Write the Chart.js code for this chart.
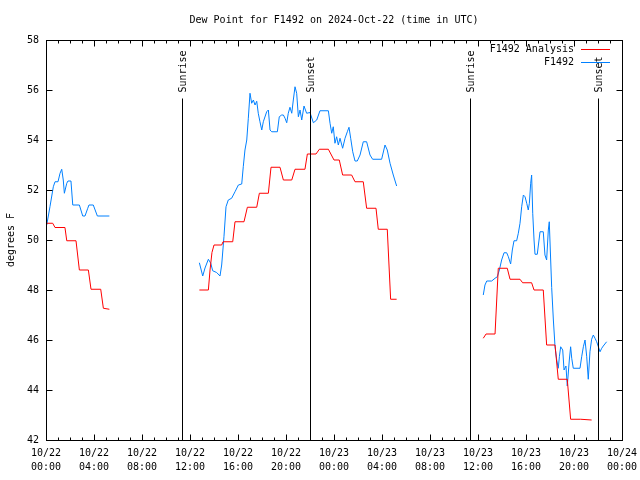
<!DOCTYPE html>
<html>
<head>
<meta charset="utf-8">
<script src="https://cdn.jsdelivr.net/npm/chart.js@4.4.1/dist/chart.umd.min.js"></script>
<style>
  html, body { margin: 0; padding: 0; background: #fff; }
</style>
</head>
<body>
<canvas id="dewChart" width="640" height="480"></canvas>
<script>
// hours since 2024-10-22 00:00 UTC, a null value breaks the line
const obsHours = [
    0.06, 0.33, 0.61, 0.75, 1.0, 1.17, 1.31, 1.44, 1.53, 1.73, 1.83, 2.08, 2.23, 2.78, 3.06, 3.25, 3.48, 3.58, 3.94, 4.28, 5.28,
    9,
    12.78, 13.06, 13.25, 13.53, 13.73, 13.89, 14.22, 14.5, 14.64, 14.83, 15.0, 15.19, 15.47, 15.75, 16.03, 16.31, 16.44, 16.58,
    16.73, 16.86, 17.0, 17.14, 17.28, 17.42, 17.56, 17.69, 17.83, 17.98, 18.11, 18.39, 18.53, 18.67, 18.81, 19.28, 19.44, 19.64,
    19.78, 19.92, 20.06, 20.19, 20.33, 20.48, 20.61, 20.75, 20.89, 21.03, 21.17, 21.31, 21.5, 21.72, 22.0, 22.28, 22.56, 22.83,
    23.53, 23.67, 23.81, 23.94, 24.08, 24.22, 24.36, 24.5, 24.72, 24.92, 25.11, 25.25, 25.39, 25.56, 25.75, 25.94, 26.17, 26.44,
    26.72, 27.0, 27.22, 27.97, 28.25, 28.44, 28.67, 28.94, 29.22,
    33,
    36.44, 36.58, 36.73, 37.14, 37.42, 37.61, 37.78, 37.97, 38.17, 38.39, 38.53, 38.72, 38.86, 39.0, 39.22, 39.36, 39.5, 39.64,
    39.78, 39.92, 40.06, 40.19, 40.28, 40.39, 40.47, 40.56, 40.67, 40.75, 40.94, 41.17, 41.44, 41.58, 41.72, 41.86, 41.94, 42.14,
    42.28, 42.42, 42.56, 42.69, 42.78, 42.89, 43.06, 43.17, 43.33, 43.44, 43.61, 43.72, 43.81, 43.94, 44.5, 44.64, 44.78, 44.92,
    45.06, 45.19, 45.33, 45.47, 45.61, 45.75, 45.89, 46.03, 46.17, 46.31, 46.44, 46.72
];
const obsDew = [
    50.6, 51.33, 52.13, 52.33, 52.33, 52.67, 52.83, 52.4, 51.87, 52.27, 52.36, 52.36, 51.4, 51.4, 50.96, 50.96, 51.27, 51.4, 51.4, 50.96, 50.96,
    null,
    49.09, 48.56, 48.88, 49.23, 49.07, 48.77, 48.7, 48.56, 49.0, 50.13, 51.33, 51.6, 51.67, 51.93, 52.2, 52.24, 52.93, 53.6,
    54.0, 54.87, 55.87, 55.47, 55.6, 55.4, 55.55, 55.07, 54.73, 54.4, 54.73, 55.13, 55.2, 54.4, 54.33, 54.33, 54.93, 55.0,
    55.0, 54.87, 54.69, 55.07, 55.31, 55.07, 55.6, 56.13, 55.87, 54.93, 55.2, 54.8, 55.36, 55.07, 55.1, 54.69, 54.8, 55.17,
    55.17, 54.67, 54.27, 54.53, 53.87, 54.13, 53.8, 54.07, 53.67, 54.07, 54.33, 54.51, 54.07, 53.53, 53.16, 53.16, 53.4, 53.93,
    53.93, 53.4, 53.23, 53.23, 53.8, 53.6, 53.07, 52.6, 52.16,
    null,
    47.8, 48.2, 48.36, 48.36, 48.47, 48.53, 48.8, 49.2, 49.49, 49.49, 49.33, 49.04, 49.6, 49.97, 49.97, 50.27, 50.67, 51.33,
    51.8, 51.73, 51.47, 51.2, 51.47, 52.27, 52.6, 51.07, 50.0, 49.43, 49.43, 50.33, 50.33, 49.4, 49.2, 50.4, 50.73, 48.1,
    46.8, 45.73, 45.2, 44.87, 45.33, 45.73, 45.6, 44.8, 44.96, 44.16, 45.2, 45.73, 45.27, 44.87, 44.87, 45.33, 45.73, 46.0,
    45.33, 44.43, 45.53, 46.03, 46.2, 46.07, 45.93, 45.73, 45.53, 45.67, 45.76, 45.93
];

const anaHours = [
    0.06, 0.56, 0.75, 1.58, 1.73, 2.5, 2.78, 3.53, 3.75, 4.56, 4.78, 5.28,
    9,
    12.78, 13.53, 13.67, 13.83, 14.0, 14.64, 14.75, 15.56, 15.75, 16.5, 16.78, 17.56, 17.78, 18.53, 18.75, 19.5, 19.78, 20.48,
    20.75, 21.58, 21.78, 22.5, 22.78, 23.53, 24.0, 24.44, 24.72, 25.47, 25.75, 26.44, 26.72, 27.5, 27.69, 28.44, 28.72, 29.22,
    33,
    36.44, 36.67, 37.42, 37.69, 38.44, 38.67, 39.5, 39.72, 40.47, 40.67, 41.44, 41.72, 42.42, 42.69, 43.44, 43.72, 44.56, 45.47
];
const anaDew = [
    50.67, 50.67, 50.5, 50.5, 49.97, 49.97, 48.8, 48.8, 48.03, 48.03, 47.27, 47.23,
    null,
    48.0, 48.0, 48.8, 49.5, 49.8, 49.8, 49.93, 49.93, 50.73, 50.73, 51.31, 51.31, 51.87, 51.87, 52.91, 52.91, 52.4, 52.4,
    52.83, 52.83, 53.44, 53.44, 53.63, 53.63, 53.2, 53.2, 52.6, 52.6, 52.33, 52.33, 51.27, 51.27, 50.43, 50.43, 47.63, 47.63,
    null,
    46.07, 46.24, 46.24, 48.87, 48.87, 48.43, 48.43, 48.29, 48.29, 48.0, 48.0, 45.8, 45.8, 44.43, 44.43, 42.83, 42.83, 42.8
];

const sunLabels = ['Sunrise', 'Sunset', 'Sunrise', 'Sunset'];
const sunHours = [11.33, 22.0, 35.33, 46.0];

const xTickLabels = [
    ['10/22', '00:00'], ['10/22', '04:00'], ['10/22', '08:00'], ['10/22', '12:00'], ['10/22', '16:00'], ['10/22', '20:00'],
    ['10/23', '00:00'], ['10/23', '04:00'], ['10/23', '08:00'], ['10/23', '12:00'], ['10/23', '16:00'], ['10/23', '20:00'],
    ['10/24', '00:00']
];

const chartTitle = 'Dew Point for F1492 on 2024-Oct-22 (time in UTC)';
const yTitle = 'degrees F';

const MONO = "'DejaVu Sans Mono', 'Liberation Mono', monospace";

function toPoints(hours, values) {
    return hours.map((h, i) => ({ x: h, y: values[i] }));
}

// gnuplot look: closed box, inward ticks, sun markers, legend top right
const gnuplotFrame = {
    id: 'gnuplotFrame',
    afterDatasetsDraw(chart) {
        const { ctx, chartArea: a, scales: { x, y } } = chart;
        const L = Math.round(a.left) + 0.5, R = Math.round(a.right) + 0.5;
        const T = Math.round(a.top) + 0.5, B = Math.round(a.bottom) + 0.5;
        ctx.save();
        ctx.strokeStyle = '#000';
        ctx.fillStyle = '#000';
        ctx.lineWidth = 1;

        ctx.beginPath();
        for (let h = x.min; h <= x.max; h++) {
            const px = Math.round(x.getPixelForValue(h)) + 0.5;
            const len = h % 4 === 0 ? 6 : 3;
            ctx.moveTo(px, B); ctx.lineTo(px, B - len);
            ctx.moveTo(px, T); ctx.lineTo(px, T + len);
        }
        y.ticks.forEach(t => {
            const py = Math.round(y.getPixelForValue(t.value)) + 0.5;
            ctx.moveTo(L, py); ctx.lineTo(L + 6, py);
            ctx.moveTo(R, py); ctx.lineTo(R - 6, py);
        });
        ctx.stroke();
        ctx.strokeRect(L, T, R - L, B - T);

        ctx.font = '10px ' + MONO;
        ctx.textAlign = 'center';
        ctx.textBaseline = 'middle';
        ctx.fillText(chartTitle, (a.left + a.right) / 2, 20);

        sunHours.forEach((h, i) => {
            const px = Math.round(x.getPixelForValue(h)) + 0.5;
            ctx.beginPath();
            ctx.moveTo(px, T + 58);
            ctx.lineTo(px, B);
            ctx.stroke();
            ctx.save();
            ctx.translate(px + 0.5, T + 52);
            ctx.rotate(-Math.PI / 2);
            ctx.textAlign = 'left';
            ctx.textBaseline = 'middle';
            ctx.fillText(sunLabels[i], 0, 0);
            ctx.restore();
        });

        ctx.textAlign = 'right';
        ctx.textBaseline = 'middle';
        chart.data.datasets.forEach((ds, i) => {
            const ly = Math.round(a.top + 9 + i * 13) + 0.5;
            ctx.fillStyle = '#000';
            ctx.fillText(ds.label, a.right - 48, ly);
            ctx.strokeStyle = ds.borderColor;
            ctx.beginPath();
            ctx.moveTo(a.right - 41, ly);
            ctx.lineTo(a.right - 12, ly);
            ctx.stroke();
        });

        ctx.fillStyle = '#000';
        ctx.save();
        ctx.translate(11, (a.top + a.bottom) / 2);
        ctx.rotate(-Math.PI / 2);
        ctx.textAlign = 'center';
        ctx.textBaseline = 'middle';
        ctx.fillText(yTitle, 0, 0);
        ctx.restore();
        ctx.restore();
    }
};

Chart.defaults.font.family = MONO;
Chart.defaults.font.size = 10;
Chart.defaults.color = '#000';

const ctx = document.getElementById('dewChart').getContext('2d');
new Chart(ctx, {
    type: 'line',
    data: {
        datasets: [{
            label: 'F1492 Analysis',
            data: toPoints(anaHours, anaDew),
            borderColor: '#ff0000',
            borderWidth: 1,
            pointRadius: 0,
            tension: 0,
            spanGaps: false
        }, {
            label: 'F1492',
            data: toPoints(obsHours, obsDew),
            borderColor: '#0080ff',
            borderWidth: 1,
            pointRadius: 0,
            tension: 0,
            spanGaps: false
        }]
    },
    options: {
        responsive: false,
        animation: false,
        devicePixelRatio: 1,
        layout: { padding: { left: 0, right: 18, top: 40, bottom: 0 } },
        plugins: {
            legend: { display: false },
            tooltip: { enabled: false },
            title: { display: false }
        },
        scales: {
            x: {
                type: 'linear',
                min: 0,
                max: 48,
                grid: { display: false, drawTicks: false },
                border: { display: false },
                ticks: {
                    stepSize: 4,
                    autoSkip: false,
                    maxRotation: 0,
                    padding: 6,
                    font: { lineHeight: 1.4 },
                    callback: value => xTickLabels[value / 4]
                },
                afterFit: s => { s.height = 40; s.paddingLeft = 0; s.paddingRight = 0; }
            },
            y: {
                min: 42,
                max: 58,
                grid: { display: false, drawTicks: false },
                border: { display: false },
                ticks: { stepSize: 2, padding: 7 },
                afterFit: s => { s.width = 46; }
            }
        }
    },
    plugins: [gnuplotFrame]
});
</script>
</body>
</html>
